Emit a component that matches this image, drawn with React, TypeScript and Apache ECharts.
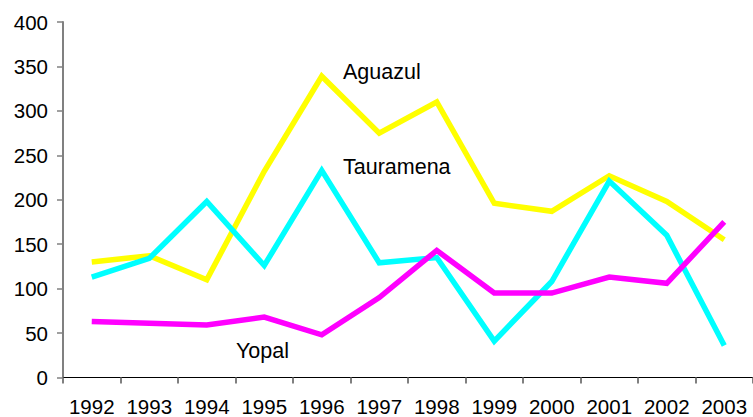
import React, { useEffect, useRef } from "react";
import * as echarts from "echarts";

const years = ["1992", "1993", "1994", "1995", "1996", "1997", "1998", "1999", "2000", "2001", "2002", "2003"];
const aguazul = [130, 137, 110, 232, 339, 275, 310, 196, 187, 227, 198, 155];
const tauramena = [113, 134, 198, 126, 233, 129, 135, 41, 108, 221, 160, 36];
const yopal = [63, 61, 59, 68, 48, 90, 143, 95, 95, 113, 106, 175];
const yTicks = [0, 50, 100, 150, 200, 250, 300, 350, 400];

const FONT = '"Liberation Sans", Arial, sans-serif';

export default function App() {
  const ref = useRef<HTMLDivElement>(null);
  useEffect(() => {
    if (!ref.current) return;
    const chart = echarts.init(ref.current, null, { renderer: "svg" });
    const mk = (name: string, data: number[], color: string) => ({
      name,
      type: "line",
      data,
      symbol: "none",
      lineStyle: { color, width: 5.5, join: "miter" },
      itemStyle: { color },
    });
    chart.setOption({
      animation: false,
      backgroundColor: "#ffffff",
      grid: { left: 63, top: 22, bottom: 39.5, right: -8 },
      xAxis: {
        type: "category",
        data: years,
        boundaryGap: true,
        axisLine: { lineStyle: { color: "#000000", width: 1 } },
        axisTick: { show: true, length: 6, lineStyle: { color: "#808080", width: 2 } },
        axisLabel: { color: "#000", fontSize: 20.5, fontFamily: FONT, margin: 18, interval: 0 },
        splitLine: { show: false },
      },
      yAxis: {
        type: "value",
        min: yTicks[0],
        max: yTicks[yTicks.length - 1],
        interval: 50,
        axisLine: { show: true, lineStyle: { color: "#808080", width: 2 } },
        axisTick: { show: true, length: 6, lineStyle: { color: "#808080", width: 1.5 } },
        axisLabel: { color: "#000", fontSize: 20.5, fontFamily: FONT, margin: 15 },
        splitLine: { show: false },
      },
      series: [
        mk("Aguazul", aguazul, "#FFFF00"),
        mk("Tauramena", tauramena, "#00FFFF"),
        mk("Yopal", yopal, "#FF00FF"),
      ],
      graphic: [
        { type: "text", x: 343, y: 72, style: { text: "Aguazul", fill: "#000", font: `21.5px ${FONT}`, verticalAlign: "middle" } },
        { type: "text", x: 343, y: 167, style: { text: "Tauramena", fill: "#000", font: `21.5px ${FONT}`, verticalAlign: "middle" } },
        { type: "text", x: 236, y: 351, style: { text: "Yopal", fill: "#000", font: `21.5px ${FONT}`, verticalAlign: "middle" } },
      ],
    });
    return () => chart.dispose();
  }, []);
  return (
    <div
      ref={ref}
      style={{ position: "fixed", left: 0, top: 0, width: 753, height: 417 }}
    />
  );
}
